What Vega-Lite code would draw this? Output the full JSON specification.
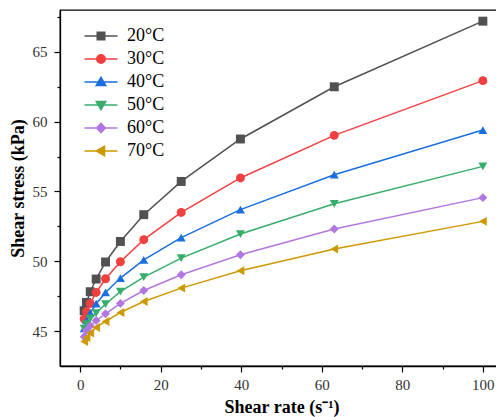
{
  "$schema": "https://vega.github.io/schema/vega-lite/v6.json",
  "autosize": {"type": "none"},
  "padding": {"left": 60, "top": 10, "right": 0, "bottom": 51},
  "width": 443,
  "height": 356,
  "background": "white",
  "view": {"stroke": "#000000", "strokeWidth": 1.3},
  "data": {"values": [
    {"rate": 1, "stress": 46.46, "temp": "20°C"}, {"rate": 1.58, "stress": 47.05, "temp": "20°C"}, {"rate": 2.51, "stress": 47.82, "temp": "20°C"}, {"rate": 3.98, "stress": 48.73, "temp": "20°C"}, {"rate": 6.31, "stress": 49.95, "temp": "20°C"}, {"rate": 10, "stress": 51.42, "temp": "20°C"}, {"rate": 15.8, "stress": 53.34, "temp": "20°C"}, {"rate": 25.1, "stress": 55.72, "temp": "20°C"}, {"rate": 39.8, "stress": 58.76, "temp": "20°C"}, {"rate": 63.1, "stress": 62.5, "temp": "20°C"}, {"rate": 100, "stress": 67.2, "temp": "20°C"},
    {"rate": 1, "stress": 45.88, "temp": "30°C"}, {"rate": 1.58, "stress": 46.4, "temp": "30°C"}, {"rate": 2.51, "stress": 46.98, "temp": "30°C"}, {"rate": 3.98, "stress": 47.77, "temp": "30°C"}, {"rate": 6.31, "stress": 48.75, "temp": "30°C"}, {"rate": 10, "stress": 49.97, "temp": "30°C"}, {"rate": 15.8, "stress": 51.55, "temp": "30°C"}, {"rate": 25.1, "stress": 53.5, "temp": "30°C"}, {"rate": 39.8, "stress": 55.97, "temp": "30°C"}, {"rate": 63.1, "stress": 59.02, "temp": "30°C"}, {"rate": 100, "stress": 62.94, "temp": "30°C"},
    {"rate": 1, "stress": 45.2, "temp": "40°C"}, {"rate": 1.58, "stress": 45.76, "temp": "40°C"}, {"rate": 2.51, "stress": 46.3, "temp": "40°C"}, {"rate": 3.98, "stress": 46.96, "temp": "40°C"}, {"rate": 6.31, "stress": 47.77, "temp": "40°C"}, {"rate": 10, "stress": 48.8, "temp": "40°C"}, {"rate": 15.8, "stress": 50.1, "temp": "40°C"}, {"rate": 25.1, "stress": 51.7, "temp": "40°C"}, {"rate": 39.8, "stress": 53.7, "temp": "40°C"}, {"rate": 63.1, "stress": 56.2, "temp": "40°C"}, {"rate": 100, "stress": 59.4, "temp": "40°C"},
    {"rate": 1, "stress": 45.17, "temp": "50°C"}, {"rate": 1.58, "stress": 45.5, "temp": "50°C"}, {"rate": 2.51, "stress": 45.9, "temp": "50°C"}, {"rate": 3.98, "stress": 46.29, "temp": "50°C"}, {"rate": 6.31, "stress": 46.94, "temp": "50°C"}, {"rate": 10, "stress": 47.82, "temp": "50°C"}, {"rate": 15.8, "stress": 48.87, "temp": "50°C"}, {"rate": 25.1, "stress": 50.23, "temp": "50°C"}, {"rate": 39.8, "stress": 51.95, "temp": "50°C"}, {"rate": 63.1, "stress": 54.12, "temp": "50°C"}, {"rate": 100, "stress": 56.8, "temp": "50°C"},
    {"rate": 1, "stress": 44.6, "temp": "60°C"}, {"rate": 1.58, "stress": 45.04, "temp": "60°C"}, {"rate": 2.51, "stress": 45.38, "temp": "60°C"}, {"rate": 3.98, "stress": 45.76, "temp": "60°C"}, {"rate": 6.31, "stress": 46.24, "temp": "60°C"}, {"rate": 10, "stress": 46.98, "temp": "60°C"}, {"rate": 15.8, "stress": 47.91, "temp": "60°C"}, {"rate": 25.1, "stress": 49.04, "temp": "60°C"}, {"rate": 39.8, "stress": 50.47, "temp": "60°C"}, {"rate": 63.1, "stress": 52.31, "temp": "60°C"}, {"rate": 100, "stress": 54.56, "temp": "60°C"},
    {"rate": 1, "stress": 44.25, "temp": "70°C"}, {"rate": 1.58, "stress": 44.54, "temp": "70°C"}, {"rate": 2.51, "stress": 44.86, "temp": "70°C"}, {"rate": 3.98, "stress": 45.26, "temp": "70°C"}, {"rate": 6.31, "stress": 45.69, "temp": "70°C"}, {"rate": 10, "stress": 46.33, "temp": "70°C"}, {"rate": 15.8, "stress": 47.12, "temp": "70°C"}, {"rate": 25.1, "stress": 48.08, "temp": "70°C"}, {"rate": 39.8, "stress": 49.32, "temp": "70°C"}, {"rate": 63.1, "stress": 50.88, "temp": "70°C"}, {"rate": 100, "stress": 52.86, "temp": "70°C"}
  ]},
  "encoding": {
    "x": {
      "field": "rate", "type": "quantitative",
      "scale": {"domain": [-5, 105], "nice": false, "zero": false},
      "axis": {
        "title": "Shear rate (s⁻¹)",
        "values": [0, 10, 20, 30, 40, 50, 60, 70, 80, 90, 100],
        "labelExpr": "datum.value % 20 === 0 ? datum.label : ''",
        "tickSize": {"condition": {"test": "datum.value % 20 !== 0", "value": 3}, "value": 6},
        "grid": false,
        "domainColor": "#000000", "domainWidth": 1.3,
        "tickColor": "#000000", "tickWidth": 1.2,
        "labelFont": "Liberation Serif", "labelFontSize": 15, "labelColor": "#333333", "labelPadding": 5,
        "titleFont": "Liberation Serif", "titleFontSize": 18, "titleFontWeight": "bold", "titleColor": "#000000", "titlePadding": 6
      }
    },
    "y": {
      "field": "stress", "type": "quantitative",
      "scale": {"domain": [42.5, 68], "nice": false, "zero": false},
      "axis": {
        "title": "Shear stress (kPa)",
        "values": [45, 47.5, 50, 52.5, 55, 57.5, 60, 62.5, 65, 67.5],
        "labelExpr": "datum.value % 5 === 0 ? datum.label : ''",
        "tickSize": {"condition": {"test": "datum.value % 5 !== 0", "value": 3}, "value": 6},
        "grid": false,
        "domainColor": "#000000", "domainWidth": 1.3,
        "tickColor": "#000000", "tickWidth": 1.2,
        "labelFont": "Liberation Serif", "labelFontSize": 15, "labelColor": "#333333", "labelPadding": 7,
        "titleFont": "Liberation Serif", "titleFontSize": 18, "titleFontWeight": "bold", "titleColor": "#000000", "titlePadding": 5
      }
    }
  },
  "layer": [
    {
      "mark": {"type": "line", "strokeWidth": 1.5},
      "encoding": {
        "color": {"field": "temp", "type": "nominal", "legend": null,
          "scale": {"domain": ["20°C", "30°C", "40°C", "50°C", "60°C", "70°C"], "range": ["#515151", "#F14040", "#1A6FDF", "#37AD6B", "#B177DE", "#CC9900"]}}
      }
    },
    {
      "mark": {"type": "point", "filled": true, "opacity": 1, "size": 80},
      "encoding": {
        "color": {"field": "temp", "type": "nominal", "legend": null,
          "scale": {"domain": ["20°C", "30°C", "40°C", "50°C", "60°C", "70°C"], "range": ["#515151", "#F14040", "#1A6FDF", "#37AD6B", "#B177DE", "#CC9900"]}},
        "shape": {"field": "temp", "type": "nominal", "legend": null,
          "scale": {"domain": ["20°C", "30°C", "40°C", "50°C", "60°C", "70°C"], "range": ["square", "circle", "triangle-up", "triangle-down", "diamond", "triangle-left"]}}
      }
    },
    {
      "mark": {"type": "point", "filled": true, "opacity": 0, "size": 100},
      "encoding": {
        "fill": {"field": "temp", "type": "nominal", "legend": {"title": null},
          "scale": {"domain": ["20°C", "30°C", "40°C", "50°C", "60°C", "70°C"], "range": ["#515151", "#F14040", "#1A6FDF", "#37AD6B", "#B177DE", "#CC9900"]}},
        "stroke": {"field": "temp", "type": "nominal", "legend": {"title": null},
          "scale": {"domain": ["20°C", "30°C", "40°C", "50°C", "60°C", "70°C"], "range": ["#515151", "#F14040", "#1A6FDF", "#37AD6B", "#B177DE", "#CC9900"]}},
        "shape": {"field": "temp", "type": "nominal", "legend": {"title": null},
          "scale": {"domain": ["20°C", "30°C", "40°C", "50°C", "60°C", "70°C"], "range": [
            "M-3.3,0H3.3M-0.75,-0.75H0.75V0.75H-0.75Z",
            "M-3.3,0H3.3M0.85,0A0.85,0.85,0,1,1,-0.85,0A0.85,0.85,0,1,1,0.85,0Z",
            "M-3.3,0H3.3M0,-0.95L0.95,0.7H-0.95Z",
            "M-3.3,0H3.3M0,0.95L0.95,-0.7H-0.95Z",
            "M-3.3,0H3.3M0,-0.95L0.9,0L0,0.95L-0.9,0Z",
            "M-3.3,0H3.3M-0.95,0L0.7,-0.95V0.95Z"
          ]}}
      }
    }
  ],
  "resolve": {
    "scale": {"shape": "independent"},
    "legend": {"fill": "independent", "stroke": "independent", "shape": "independent"}
  },
  "config": {
    "legend": {
      "orient": "none",
      "legendX": 32,
      "legendY": 17,
      "symbolSize": 100,
      "symbolStrokeWidth": 1.5,
      "symbolOpacity": 1,
      "labelFont": "Liberation Serif",
      "labelFontSize": 18,
      "labelColor": "#000000",
      "labelOffset": 17,
      "rowPadding": 5,
      "padding": 0
    }
  }
}
